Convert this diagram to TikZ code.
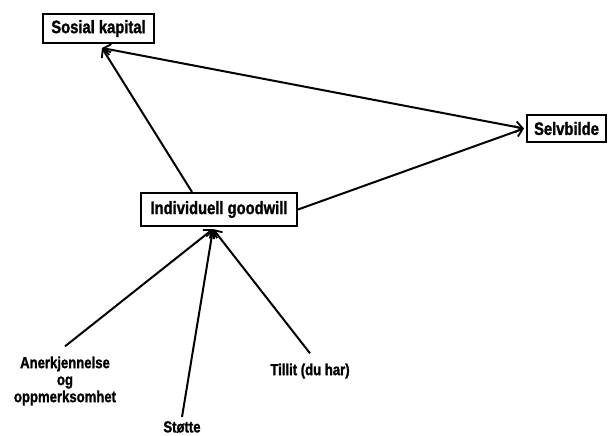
\documentclass[tikz,border=0pt]{standalone}
\usepackage{fontspec}
\setmainfont[FakeStretch=0.82,FakeBold=1.4]{Liberation Sans Bold}
\usetikzlibrary{arrows.meta}
\tikzset{barbtip/.tip={Straight Barb[length=7pt,width=11pt,line width=1.8pt]}}
\begin{document}
\begin{tikzpicture}[x=1pt,y=-1pt,
  concept/.style={draw,line width=2pt,inner sep=0pt,font=\fontsize{18}{20}\selectfont},
  source/.style={align=center,inner sep=0pt,font=\fontsize{16}{17}\selectfont},
  link/.style={line width=2pt,-{barbtip}},
  twoway/.style={line width=2pt,{barbtip}-{barbtip}}]
\useasboundingbox (0,0) rectangle (608,436);

% concept boxes
\node[concept,minimum width=111pt,minimum height=29pt] (sk) at (98.5,28.5) {Sosial kapital};
\node[concept,minimum width=79pt,minimum height=27pt] (sb) at (566.5,128.5) {Selvbilde};
\node[concept,minimum width=156pt,minimum height=33pt] (gw) at (219,209.5) {Individuell goodwill};

% sources of goodwill
\node[source] (ak) at (65,381) {Anerkjennelse\\og\\oppmerksomhet};
\node[source] (st) at (182,427) {Støtte};
\node[source] (tl) at (310,371) {Tillit (du har)};

% relations between the concepts
\draw[link] ([xshift=-27pt]gw.north) -- ([xshift=3.5pt,yshift=-4pt]sk.south);
\draw[twoway] ([xshift=3.5pt,yshift=-4pt]sk.south) -- ([xshift=-2pt]sb.west);
\draw[link] (gw.east) -- ([xshift=-2pt]sb.west);

% sources feeding into goodwill
\draw[link] ([yshift=10pt]ak.north) -- ([xshift=-6pt,yshift=-2pt]gw.south);
\draw[link] ([yshift=4pt]st.north) -- ([xshift=-6pt,yshift=-2pt]gw.south);
\draw[link] ([yshift=10pt]tl.north) -- ([xshift=-6pt,yshift=-2pt]gw.south);
\end{tikzpicture}
\end{document}
